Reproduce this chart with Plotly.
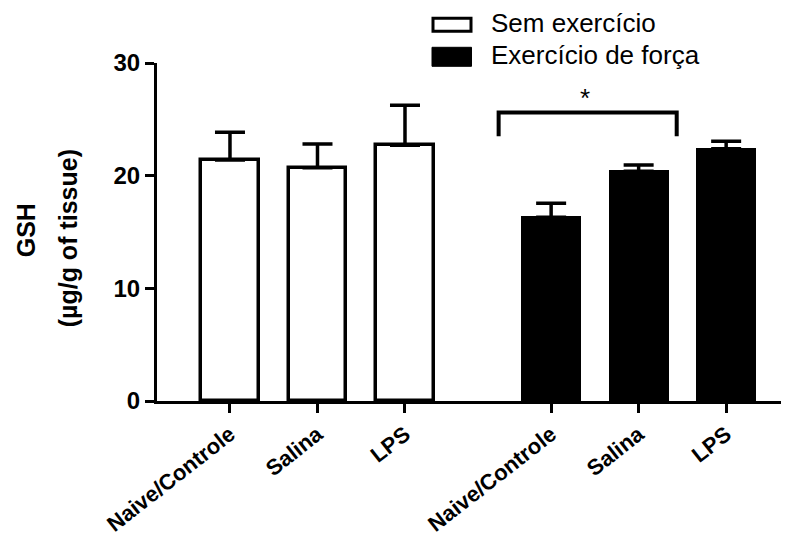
import plotly.graph_objects as go

# ---- data ----
categories = ["Naive/Controle", "Salina", "LPS", "Naive/Controle", "Salina", "LPS"]
positions = [0, 1, 2, 3.67, 4.67, 5.67]
groups = ["Sem exercício", "Exercício de força"]
sem_values = [21.4, 20.7, 22.7]
sem_errors = [2.45, 2.1, 3.55]
forca_values = [16.3, 20.4, 22.4]
forca_errors = [1.25, 0.55, 0.65]
y_ticks = [0, 10, 20, 30]
sig_label = "*"

W, H = 789, 540
OFF = 8  # page body margin offset
L, R_EDGE, T, B = 157, 786, 62.7, 400.7  # page pixel coordinates of plot area

FONT = "Liberation Sans, Arial, Helvetica, sans-serif"

fig = go.Figure()

fig.add_trace(go.Bar(
    x=positions[:3], y=sem_values, width=0.66, name=groups[0],
    marker=dict(color="white", line=dict(color="black", width=3.5)),
    error_y=dict(type="data", symmetric=False, array=sem_errors,
                 arrayminus=[0] * 3, color="black", thickness=3.5, width=15),
    showlegend=False,
))
fig.add_trace(go.Bar(
    x=positions[3:], y=forca_values, width=0.66, name=groups[1],
    marker=dict(color="black", line=dict(color="black", width=2)),
    error_y=dict(type="data", symmetric=False, array=forca_errors,
                 arrayminus=[0] * 3, color="black", thickness=3.5, width=15),
    showlegend=False,
))

# significance bracket between first two exercised groups
bx0 = positions[3] - 0.6
bx1 = positions[4] + 0.435
by_low, by_top = 23.5, 25.6
fig.add_shape(type="path", xref="x", yref="y",
              path=f"M {bx0},{by_low} L {bx0},{by_top} L {bx1},{by_top} L {bx1},{by_low}",
              line=dict(color="black", width=4))
fig.add_annotation(x=(bx0 + bx1) / 2 - 0.03, y=by_top, xref="x", yref="y",
                   text=sig_label, showarrow=False, yanchor="bottom", yshift=-2,
                   font=dict(family=FONT, size=26, color="black"))

# manual legend (page pixel -> paper)
def px(xp):
    return (xp - L) / (R_EDGE - L)

def py(yp):
    return (B - yp) / (B - T)

fig.add_shape(type="rect", xref="paper", yref="paper",
              x0=px(433), x1=px(471), y0=py(31), y1=py(18),
              line=dict(color="black", width=3), fillcolor="white")
fig.add_shape(type="rect", xref="paper", yref="paper",
              x0=px(432), x1=px(471.5), y0=py(66), y1=py(47),
              line=dict(color="black", width=1), fillcolor="black")
fig.add_annotation(x=px(489), y=py(23), xref="paper", yref="paper",
                   text=groups[0], showarrow=False, xanchor="left", yanchor="middle",
                   font=dict(family=FONT, size=26, color="black"))
fig.add_annotation(x=px(489), y=py(55), xref="paper", yref="paper",
                   text=groups[1], showarrow=False, xanchor="left", yanchor="middle",
                   font=dict(family=FONT, size=26, color="black"))

# y axis title (two lines)
fig.add_annotation(x=px(26), y=py(230), xref="paper", yref="paper",
                   text="GSH", showarrow=False, textangle=-90,
                   xanchor="center", yanchor="middle",
                   font=dict(family=FONT, size=25, color="black", weight="bold"))
fig.add_annotation(x=px(68), y=py(238), xref="paper", yref="paper",
                   text="(µg/g of tissue)", showarrow=False, textangle=-90,
                   xanchor="center", yanchor="middle",
                   font=dict(family=FONT, size=25, color="black", weight="bold"))

FW, FH = W - OFF, H - OFF
fig.update_layout(
    width=FW, height=FH,
    margin=dict(l=L - OFF, r=FW - (R_EDGE - OFF), t=T - OFF, b=FH - (B - OFF),
                pad=0, autoexpand=False),
    paper_bgcolor="white", plot_bgcolor="white",
    bargap=0, showlegend=False,
    font=dict(family=FONT, color="black"),
)
fig.update_xaxes(
    range=[-0.834, 6.354], tickmode="array", tickvals=positions, ticktext=categories,
    tickangle=-38, showline=True, linecolor="black", linewidth=3,
    ticks="outside", ticklen=9, tickwidth=3, tickcolor="black",
    showgrid=False, zeroline=False, automargin=False,
    tickfont=dict(family=FONT, size=22, color="black", weight="bold"),
)
fig.update_yaxes(
    range=[0, 30], tickmode="array", tickvals=y_ticks,
    showline=True, linecolor="black", linewidth=3,
    ticks="outside", ticklen=9, tickwidth=3, tickcolor="black",
    showgrid=False, zeroline=False, automargin=False,
    tickfont=dict(family=FONT, size=24, color="black", weight="bold"),
)

fig.write_html("out.html")
